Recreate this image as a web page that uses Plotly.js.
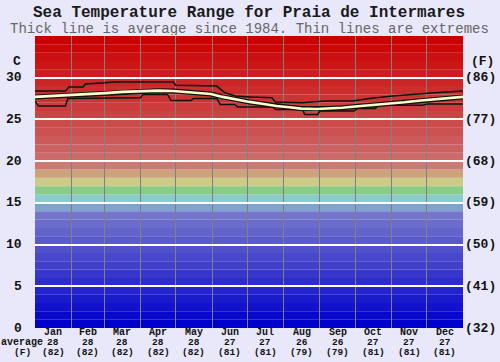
<!DOCTYPE html>
<html>
<head>
<meta charset="utf-8">
<script src="https://cdn.plot.ly/plotly-3.0.1.min.js"></script>
<style>
html,body{margin:0;padding:0;background:#e8e8fa;}
#chart{width:500px;height:362px;}
</style>
</head>
<body>
<div id="chart"></div>
<script>
// ---- data ----
const months = ['Jan','Feb','Mar','Apr','May','Jun','Jul','Aug','Sep','Oct','Nov','Dec'];
const monthStarts = [0,31,59,90,120,151,181,212,243,273,304,334,365];
const monthAvgC = [28,28,28,28,28,27,27,26,26,27,27,27];
const monthAvgF = [82,82,82,82,82,81,81,79,79,81,81,81];

const celsiusTicks = [0,5,10,15,20,25,30];
const fahrenheitTicks = ['(32)','(41)','(50)','(59)','(68)','(77)','(86)'];

const avgDays = [0,15,30,45,60,75,90,105,118,130,141,150,160,170,183,195,206,217,227,240,250,262,273,288,302,315,329,345,365];
const avgVals = [27.7,27.8,27.9,28.0,28.15,28.3,28.4,28.45,28.4,28.3,28.2,28.05,27.7,27.4,27.1,26.85,26.6,26.45,26.3,26.25,26.3,26.4,26.55,26.7,26.86,27.05,27.26,27.45,27.7];

const maxDays = [0,26,29,41,43,55,60,67,90,118,120,141,155,162,171,183,202,205,228,247,271,285,305,341,365];
const maxVals = [28.4,28.4,28.9,28.9,29.25,29.3,29.4,29.5,29.5,29.5,29.1,29.05,29.0,28.2,27.8,27.7,27.6,27.1,27.0,27.2,27.2,27.5,27.8,28.2,28.4];

const minDays = [0,3,26,28,90,92,113,116,133,135,155,158,170,173,203,205,228,230,241,243,272,275,290,293,330,335,365];
const minVals = [27.2,26.6,26.6,27.5,27.6,28.0,28.0,27.26,27.26,27.5,27.5,26.8,26.8,26.5,26.5,26.2,26.2,25.6,25.6,26.0,26.0,26.3,26.3,26.7,26.7,26.86,26.86];

// background colour bands, one per degree (band i spans i..i+1 C)
const bandColors = [
 '#0000cc','#0909cc','#1212cc','#1b1bcc','#2424cc','#2d2dcc','#3636cc','#3f3fcc','#4848cc','#5151cc',
 '#5a5acc','#6363cc','#6c6ccc','#7575cc','#7ca4cc','#88cccc','#88cc88','#cccc88','#cca27a','#cc7a72',
 '#cc6969','#cc6161','#cc5a5a','#cc5252','#cc4b4b','#cc4343','#cc3c3c','#cc3434','#cc2d2d','#cc2525',
 '#cc1e1e','#cc1616','#cc0f0f','#cc0707','#cc0000'
];

// ---- build ----
const shapes = bandColors.map((c,i)=>({
  type:'rect', xref:'paper', x0:0, x1:1, yref:'y', y0:i, y1:i+1,
  fillcolor:c, line:{width:0}, layer:'below'
}));

const mono = 'Liberation Mono, Courier New, monospace';
const ann = [];
ann.push({text:'Sea Temperature Range for Praia de Intermares', xref:'paper', yref:'paper', x:0.5, y:1, yanchor:'middle', yshift:23.5, showarrow:false,
  borderpad:0, height:15,
  font:{family:mono, size:16, color:'#1a1a1a', weight:'bold'}});
ann.push({text:'Thick line is average since 1984. Thin lines are extremes', xref:'paper', yref:'paper', x:0.5, y:1, yanchor:'middle', yshift:8, showarrow:false,
  borderpad:0, height:13,
  font:{family:mono, size:14, color:'#666666'}});

const tickFont = {family:mono, size:13, color:'#111', weight:'bold'};
celsiusTicks.forEach((t,i)=>{
  ann.push({text:String(t), xref:'paper', yref:'y', x:0, y:t, xanchor:'right', yanchor:'middle', xshift:-11, showarrow:false, font:tickFont});
  ann.push({text:fahrenheitTicks[i], xref:'paper', yref:'y', x:1, y:t, xanchor:'left', yanchor:'middle', xshift:0, showarrow:false, font:tickFont});
});
ann.push({text:'C', xref:'paper', yref:'y', x:0, y:32, xanchor:'right', yanchor:'middle', xshift:-12, showarrow:false, font:tickFont});
ann.push({text:'(F)', xref:'paper', yref:'y', x:1, y:32, xanchor:'left', yanchor:'middle', xshift:6, showarrow:false, font:tickFont});

const rowFont = {family:mono, size:9.5, color:'#111', weight:'bold'};
months.forEach((m,i)=>{
  const xc = (monthStarts[i]+monthStarts[i+1])/2;
  ann.push({text:m, xref:'x', yref:'paper', x:xc, y:0, yanchor:'middle', yshift:-4, showarrow:false,
    borderpad:0, height:9, font:{family:mono, size:10, color:'#111', weight:'bold'}});
  ann.push({text:String(monthAvgC[i]), xref:'x', yref:'paper', x:xc, y:0, yanchor:'middle', yshift:-14.8, showarrow:false,
    borderpad:0, height:9, font:rowFont});
  ann.push({text:'('+monthAvgF[i]+')', xref:'x', yref:'paper', x:xc, y:0, yanchor:'middle', yshift:-24, showarrow:false,
    borderpad:0, height:9, font:rowFont});
});
ann.push({text:'average', xref:'paper', yref:'paper', x:0, y:0, xanchor:'center', yanchor:'middle', xshift:-13, yshift:-14.8, showarrow:false,
  borderpad:0, height:9, font:{family:mono, size:10, color:'#111', weight:'bold'}});
ann.push({text:'(F)', xref:'paper', yref:'paper', x:0, y:0, xanchor:'center', yanchor:'middle', xshift:-13, yshift:-24, showarrow:false,
  borderpad:0, height:9, font:rowFont});

const traces = [
  {x:maxDays, y:maxVals, mode:'lines', line:{color:'#111', width:1.5}, hoverinfo:'skip'},
  {x:minDays, y:minVals, mode:'lines', line:{color:'#111', width:1.5}, hoverinfo:'skip'},
  {x:avgDays, y:avgVals, mode:'lines', line:{color:'#111', width:5}, hoverinfo:'skip'},
  {x:avgDays, y:avgVals, mode:'lines', line:{color:'#ffffc8', width:2.6}, hoverinfo:'skip'}
];

const layout = {
  width:500, height:362,
  margin:{l:35, r:37, t:36, b:34},
  paper_bgcolor:'#e8e8fa', plot_bgcolor:'rgba(0,0,0,0)',
  showlegend:false,
  xaxis:{range:[0,365], tickvals:monthStarts, showticklabels:false, ticks:'', showgrid:true,
    gridcolor:'#808080', gridwidth:1, zeroline:false, showline:false, fixedrange:true},
  yaxis:{range:[0,35], tickvals:[5,10,15,20,25,30], showticklabels:false, ticks:'', showgrid:true,
    gridcolor:'#ffffff', gridwidth:2, zeroline:false, showline:false, fixedrange:true},
  shapes:shapes,
  annotations:ann
};

Plotly.newPlot('chart', traces, layout, {staticPlot:true, displayModeBar:false});
</script>
</body>
</html>
